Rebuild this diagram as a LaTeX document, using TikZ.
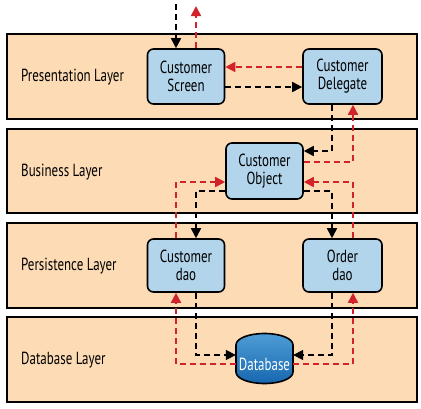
\documentclass[tikz,border=0pt]{standalone}
\usepackage{fontspec}
\setmainfont{PT Sans}[FakeStretch=0.74]
\usetikzlibrary{arrows.meta}
\definecolor{peach}{HTML}{FCDBB5}
\definecolor{lblue}{HTML}{B2D5EC}
\definecolor{dred}{HTML}{D2232A}
\definecolor{dbtop}{HTML}{4E9DD6}
\definecolor{dbbot}{HTML}{1767B0}
\tikzset{
  layerbox/.style={draw=black, line width=1.3pt, fill=peach},
  layerlabel/.style={anchor=west, font=\fontsize{17.5}{18}\selectfont, inner sep=0pt},
  comp/.style={draw=black, line width=1.6pt, fill=lblue, rounded corners=6pt,
    minimum width=77pt, minimum height=55pt, align=center, inner sep=0pt,
    font=\fontsize{17.5}{18}\selectfont},
  blk/.style={draw=black, line width=1.7pt, dash pattern=on 6pt off 4pt,
    -{Triangle[length=10pt,width=10pt]}},
  redarr/.style={draw=dred, line width=1.7pt, dash pattern=on 6pt off 4pt,
    -{Triangle[length=10pt,width=10pt,fill=dred]}, color=dred},
}
\begin{document}
\begin{tikzpicture}[x=1pt,y=-1pt]
\useasboundingbox (0,0) rectangle (421,408);
% layers
\draw[layerbox] (7,34) rectangle (417,119);
\draw[layerbox] (7,129) rectangle (417,213);
\draw[layerbox] (7,223) rectangle (417,308);
\draw[layerbox] (7,317) rectangle (417,402);
\node[layerlabel] (lp) at (21,77) {Presentation Layer};
\node[layerlabel] (lb) at (21,172) {Business Layer};
\node[layerlabel] (lr) at (21,266) {Persistence Layer};
\node[layerlabel] (ld) at (21,360) {Database Layer};
% helper coordinates
\coordinate (xa) at (176,0);
\coordinate (xb) at (196,0);
\coordinate (xc) at (332,0);
\coordinate (xd) at (353,0);
\coordinate (yin) at (0,4);
\coordinate (yout) at (0,6);
\coordinate (y67) at (0,67);
\coordinate (y87) at (0,87);
\coordinate (y151) at (0,151);
\coordinate (y162) at (0,162);
\coordinate (y182) at (0,182);
\coordinate (y191) at (0,191);
\coordinate (y355) at (0,355);
\coordinate (y364) at (0,364);
% components
\node[comp] (screen) at (186,76.5) {Customer\\Screen};
\node[comp, minimum width=79pt] (deleg) at (342.5,76.5) {Customer\\Delegate};
\node[comp, minimum height=56pt] (obj) at (264.5,171) {Customer\\Object};
\node[comp, minimum height=53pt] (cdao) at (186,265.5) {Customer\\dao};
\node[comp, minimum width=79pt, minimum height=53pt] (odao) at (342.5,265.5) {Order\\dao};
% database
\node[minimum width=57pt, minimum height=50pt, inner sep=0pt] (db) at (264.5,358.5) {};
\fill[top color=dbtop, bottom color=dbbot]
  (236,345) .. controls (236,338.4) and (248.8,333.5) .. (264.5,333.5)
  .. controls (280.2,333.5) and (293,338.4) .. (293,345)
  -- (293,372) .. controls (293,378.6) and (280.2,383.5) .. (264.5,383.5)
  .. controls (248.8,383.5) and (236,378.6) .. (236,372) -- cycle;
\draw[line width=1.6pt]
  (236,345) .. controls (236,338.4) and (248.8,333.5) .. (264.5,333.5)
  .. controls (280.2,333.5) and (293,338.4) .. (293,345)
  -- (293,372) .. controls (293,378.6) and (280.2,383.5) .. (264.5,383.5)
  .. controls (248.8,383.5) and (236,378.6) .. (236,372) -- cycle;
\node[text=white, font=\fontsize{17.5}{18}\selectfont, inner sep=0pt] (dbl) at (264.5,364) {Database};
% connectors
\draw[blk] (xa |- yin) -- (screen.north -| xa);
\draw[redarr] (screen.north -| xb) -- (xb |- yout);
\draw[redarr] (deleg.west |- y67) -- (screen.east |- y67);
\draw[blk] (screen.east |- y87) -- (deleg.west |- y87);
\draw[blk] (deleg.south -| xc) |- (obj.east |- y151);
\draw[redarr] (obj.east |- y162) -| (deleg.south -| xd);
\draw[redarr] (cdao.north -| xa) |- (obj.west |- y182);
\draw[blk] (obj.west |- y191) -| (cdao.north -| xb);
\draw[redarr] (odao.north -| xd) |- (obj.east |- y182);
\draw[blk] (obj.east |- y191) -| (odao.north -| xc);
\draw[blk] (cdao.south -| xb) |- (db.west |- y355);
\draw[redarr] (db.west |- y364) -| (cdao.south -| xa);
\draw[blk] (odao.south -| xc) |- (db.east |- y355);
\draw[redarr] (db.east |- y364) -| (odao.south -| xd);
\end{tikzpicture}
\end{document}
